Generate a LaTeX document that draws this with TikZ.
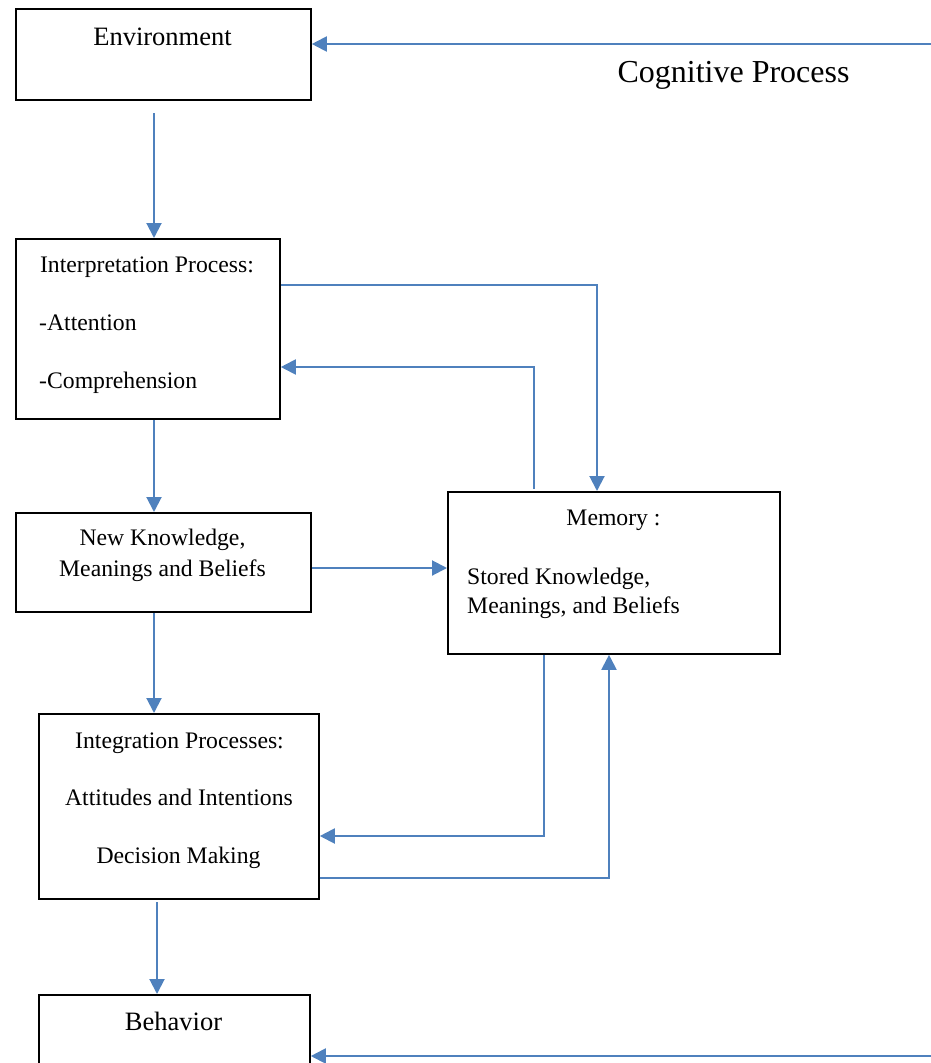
\documentclass[tikz,border=0pt]{standalone}
\usepackage{fontspec}
\setmainfont{Liberation Serif}
\usepackage{tikz}
\usetikzlibrary{arrows.meta}
\definecolor{linkblue}{HTML}{4F81BD}
\tikzset{>={Triangle[length=15pt,width=15pt]}}
\tikzset{box/.style={draw=black,line width=1.8pt,anchor=north west,inner sep=0pt},
	link/.style={->,color=linkblue,line width=2pt},
	txt/.style={anchor=base,inner sep=0pt,font=\fontsize{23.7}{28}\selectfont},
	ltxt/.style={txt,anchor=base west},
	bigtxt/.style={txt,font=\fontsize{26.5}{30}\selectfont}}

\begin{document}
\begin{tikzpicture}[line join=miter,x=1pt,y=-1pt]
			\clip (0,0) rectangle (931,1063);
			% boxes
			\node[box,minimum width=295pt,minimum height=91pt] (env) at (15,8) {};
			\node[box,minimum width=264pt,minimum height=180pt] (interp) at (15,238) {};
			\node[box,minimum width=295pt,minimum height=99pt] (newk) at (15,512) {};
			\node[box,minimum width=332pt,minimum height=162pt] (memory) at (447,491) {};
			\node[box,minimum width=280pt,minimum height=185pt] (integ) at (38,713) {};
			\node[box,minimum width=271pt,minimum height=100pt] (behav) at (38,994) {};
			% texts
			\node[bigtxt] (envtxt) at (162.5,45) {Environment};
			\node[txt,font=\fontsize{32}{36}\selectfont] (cogtxt) at (733.5,82) {Cognitive Process};
			\node[txt] (interptxt) at (147,272) {Interpretation Process:};
			\node[ltxt] (atttxt) at (39,330) {-Attention};
			\node[ltxt] (comptxt) at (39,388) {-Comprehension};
			\node[txt] (newktxt) at (162.5,545) {New Knowledge,};
			\node[txt] (meantxt) at (162.5,576) {Meanings and Beliefs};
			\node[txt] (memtxt) at (613.5,525) {Memory :};
			\node[ltxt] (storetxt) at (467,584) {Stored Knowledge,};
			\node[ltxt] (smeantxt) at (467,613) {Meanings, and Beliefs};
			\node[txt] (integtxt) at (179.5,748) {Integration Processes:};
			\node[txt] (attitxt) at (179,805) {Attitudes and Intentions};
			\node[txt] (dectxt) at (178.5,863) {Decision Making};
			\node[bigtxt] (behavtxt) at (173.5,1030) {Behavior};
			% connectors
			\coordinate (cogin) at (931,44);
			\coordinate (cogout) at (931,1056);
			\coordinate (envout) at (154,113);
			\coordinate (integout) at (157,902);
			\draw[link] (cogin) -- (cogin -| env.east);
			\draw[link] (envout) -- (envout |- interp.north);
			\draw[link] (interp.east |- 0,285) -| (597,0 |- memory.north);
			\draw[link] ([yshift=2pt]memory.north -| 534,0) |- (interp.east |- 0,367);
			\draw[link] (interp.south -| 154,0) -- (newk.north -| 154,0);
			\draw[link] (newk.east |- 0,568) -- (memory.west |- 0,568);
			\draw[link] (newk.south -| 154,0) -- (integ.north -| 154,0);
			\draw[link] (memory.south -| 544,0) |- (integ.east |- 0,836);
			\draw[link] (integ.east |- 0,878) -| (609,0 |- memory.south);
			\draw[link] (integout) -- (integout |- behav.north);
			\draw[link] (cogout) -- (cogout -| behav.east);
			\end{tikzpicture}
\end{document}
